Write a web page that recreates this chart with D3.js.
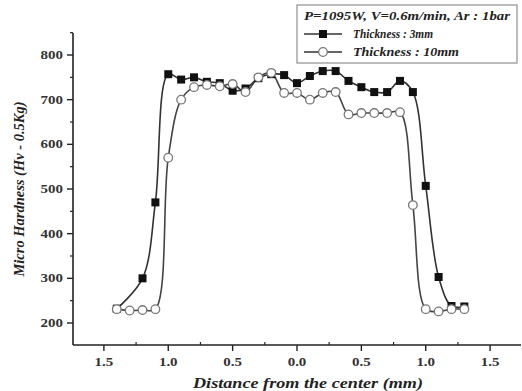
<!DOCTYPE html>
<html><head><meta charset="utf-8">
<script src="https://cdn.jsdelivr.net/npm/d3@7"></script>
<style>body{margin:0;background:#fff}text{font-family:"Liberation Serif","Times New Roman",serif;font-weight:bold}</style>
</head><body><svg id="c" width="522" height="391"></svg>
<script>
const dist3 = [-1.4,-1.2,-1.1,-1.0,-0.9,-0.8,-0.7,-0.6,-0.5,-0.4,-0.3,-0.2,-0.1,0.0,0.1,0.2,0.3,0.4,0.5,0.6,0.7,0.8,0.9,1.0,1.1,1.2,1.3];
const hard3 = [232,300,470,757,745,750,740,737,720,725,748,757,755,737,753,764,764,742,728,717,717,742,717,507,303,238,237];
const dist10 = [-1.4,-1.3,-1.2,-1.1,-1.0,-0.9,-0.8,-0.7,-0.6,-0.5,-0.4,-0.3,-0.2,-0.1,0.0,0.1,0.2,0.3,0.4,0.5,0.6,0.7,0.8,0.9,1.0,1.1,1.2,1.3];
const hard10 = [231,228,229,231,570,700,728,733,730,735,717,750,760,715,715,700,715,717,667,670,670,670,672,464,231,226,231,231];
const xTicks = [-1.5,-1.0,-0.5,0.0,0.5,1.0,1.5];
const xMinor = [-1.25,-0.75,-0.25,0.25,0.75,1.25];
const yTicks = [200,300,400,500,600,700,800];
const yMinor = [250,350,450,550,650,750,850];
const legendTitle = "P=1095W, V=0.6m/min, Ar : 1bar";
const seriesNames = ["Thickness : 3mm","Thickness : 10mm"];

const svg = d3.select("#c");
const x = d3.scaleLinear().domain([-1.74,1.74]).range([73,521]);
const y = d3.scaleLinear().domain([200,800]).range([323,55]);
const y0 = 345, x0 = 73;

function stretch(sel, f){
  const n = sel.node(); const w = n.getComputedTextLength();
  sel.attr("textLength", w*f).attr("lengthAdjust","spacingAndGlyphs");
  return sel;
}

svg.append("line").attr("x1",x0).attr("x2",x0).attr("y1",33).attr("y2",y0).attr("stroke","#222").attr("stroke-width",1.6);
svg.append("line").attr("x1",x0).attr("x2",521).attr("y1",y0).attr("y2",y0).attr("stroke","#222").attr("stroke-width",1.6);

yTicks.forEach(v=>{
  svg.append("line").attr("x1",x0-6).attr("x2",x0).attr("y1",y(v)).attr("y2",y(v)).attr("stroke","#222").attr("stroke-width",1.4);
  stretch(svg.append("text").attr("x",x0-10).attr("y",y(v)).attr("dy","0.35em").attr("text-anchor","end").attr("font-size",11.5).attr("fill","#333").text(v),1.3);
});
yMinor.forEach(v=>{
  svg.append("line").attr("x1",x0-3).attr("x2",x0).attr("y1",y(v)).attr("y2",y(v)).attr("stroke","#222").attr("stroke-width",1.2);
});
xTicks.forEach(v=>{
  svg.append("line").attr("x1",x(v)).attr("x2",x(v)).attr("y1",y0).attr("y2",y0+6).attr("stroke","#222").attr("stroke-width",1.4);
  stretch(svg.append("text").attr("x",x(v)).attr("y",362).attr("dy","0.35em").attr("text-anchor","middle").attr("font-size",11.5).attr("fill","#333").text(Math.abs(v).toFixed(1)),1.3);
});
xMinor.forEach(v=>{
  svg.append("line").attr("x1",x(v)).attr("x2",x(v)).attr("y1",y0-3).attr("y2",y0).attr("stroke","#222").attr("stroke-width",1.2);
});

svg.append("text").attr("transform","translate(24,189) rotate(-90)").attr("text-anchor","middle").attr("font-size",14.5).attr("font-style","italic").attr("fill","#222").text("Micro Hardness (Hv - 0.5Kg)");
svg.append("text").attr("x",308).attr("y",383).attr("dy","0.35em").attr("text-anchor","middle").attr("font-size",14).attr("font-style","italic").attr("fill","#222").attr("textLength",230).attr("lengthAdjust","spacingAndGlyphs").text("Distance from the center (mm)");

const line = d3.line().x(d=>x(d[0])).y(d=>y(d[1])).curve(d3.curveCatmullRom.alpha(0.5));
const d3s = dist3.map((d,i)=>[d,hard3[i]]);
const d10 = dist10.map((d,i)=>[d,hard10[i]]);
svg.append("path").attr("d",line(d10)).attr("fill","none").attr("stroke","#444").attr("stroke-width",1.6);
svg.append("path").attr("d",line(d3s)).attr("fill","none").attr("stroke","#333").attr("stroke-width",1.6);
svg.selectAll(".sq").data(d3s).enter().append("rect")
  .attr("x",d=>x(d[0])-4).attr("y",d=>y(d[1])-4).attr("width",8).attr("height",8).attr("fill","#111");
svg.selectAll(".ci").data(d10).enter().append("circle")
  .attr("cx",d=>x(d[0])).attr("cy",d=>y(d[1])).attr("r",4.3).attr("fill","#fff").attr("stroke","#777").attr("stroke-width",1.3);

svg.append("rect").attr("x",297).attr("y",5).attr("width",220).attr("height",58).attr("fill","#fff").attr("stroke","#999").attr("stroke-width",1.3);
svg.append("text").attr("x",304).attr("y",16).attr("dy","0.35em").attr("font-size",11.5).attr("font-style","italic").attr("fill","#222").attr("textLength",206).attr("lengthAdjust","spacingAndGlyphs").text(legendTitle);
const legW = [80,106];
[34,52].forEach((ly,i)=>{
  svg.append("line").attr("x1",304).attr("x2",342).attr("y1",ly).attr("y2",ly).attr("stroke","#333").attr("stroke-width",1.6);
  if(i===0) svg.append("rect").attr("x",319).attr("y",ly-4).attr("width",8).attr("height",8).attr("fill","#111");
  else svg.append("circle").attr("cx",323).attr("cy",ly).attr("r",4.3).attr("fill","#fff").attr("stroke","#777").attr("stroke-width",1.3);
  svg.append("text").attr("x",353).attr("y",ly).attr("dy","0.35em").attr("font-size",11.5).attr("font-style","italic").attr("fill","#222").attr("textLength",legW[i]).attr("lengthAdjust","spacingAndGlyphs").text(seriesNames[i]);
});
</script></body></html>
